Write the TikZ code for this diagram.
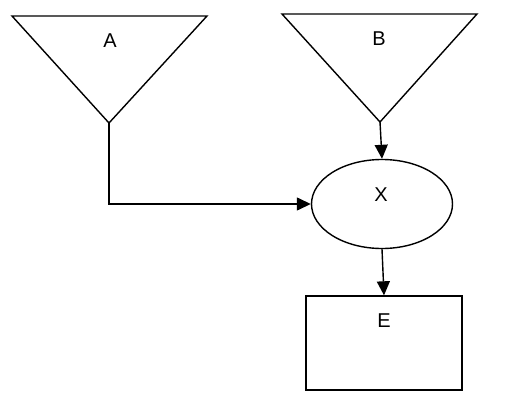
\documentclass[tikz,border=0pt]{standalone}
\usepackage{fontspec}
\setmainfont{Liberation Sans}
\usetikzlibrary{arrows.meta,shapes.geometric}
\begin{document}
\begin{tikzpicture}[x=1pt,y=-1pt,
  shape line/.style={draw=black,line width=1.4pt},
  conn/.style={draw=black,line width=1.4pt,-{Triangle[length=14pt,width=13pt]}},
  lbl/.style={font=\fontsize{20pt}{22pt}\selectfont,inner sep=0pt}]
\useasboundingbox[fill=white] (0,0) rectangle (518,414);
% triangle A
\coordinate (aL) at (12,16);
\coordinate (aR) at (207,16);
\coordinate (aV) at (109,123);
\draw[shape line,line join=miter] (aL) -- (aR) -- (aV) -- cycle;
\node[lbl] (A) at (110,41) {A};
% triangle B
\coordinate (bL) at (282,14);
\coordinate (bR) at (477,14);
\coordinate (bV) at (380,122);
\draw[shape line,line join=miter] (bL) -- (bR) -- (bV) -- cycle;
\node[lbl] (B) at (379,39) {B};
% ellipse X
\node[ellipse,shape line,minimum width=141pt,minimum height=89pt,inner sep=0pt] (X) at (382,204) {};
\node[lbl] (Xl) at (381,195) {X};
% rectangle E
\node[rectangle,shape line,minimum width=156pt,minimum height=94pt,inner sep=0pt] (E) at (384,343) {};
\node[lbl] (El) at (384,321) {E};
% connectors
\draw[conn] (aV) -- (aV |- X.west) -- (X.west);
\draw[conn] (bV) -- (X.north);
\draw[conn] (X.south) -- (E.north);
\end{tikzpicture}
\end{document}
